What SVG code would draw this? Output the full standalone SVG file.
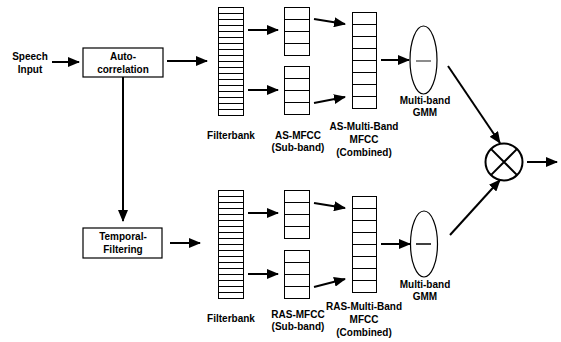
<svg xmlns="http://www.w3.org/2000/svg" width="561" height="342" viewBox="0 0 561 342">
<style>
text{font-family:"Liberation Sans",Arial,sans-serif;font-size:10px;font-weight:bold;fill:#000;text-anchor:middle}
.box{fill:#fff;stroke:#000;stroke-width:1.2}
.cell{fill:none;stroke:#000;stroke-width:1}
.conn{stroke:#000;stroke-width:2;fill:none}
</style>
<defs>
<marker id="ah" markerUnits="userSpaceOnUse" markerWidth="12" markerHeight="10" refX="11" refY="5" orient="auto">
<path d="M0,0 L12,5 L0,10 z" fill="#000"/>
</marker>
</defs>

<g id="speech-input">
<text x="30" y="60">Speech</text>
<text x="30" y="73">Input</text>
</g>

<g id="autocorrelation">
<rect class="box" x="83" y="48" width="80" height="29"/>
<text x="123" y="60">Auto-</text>
<text x="123" y="73">correlation</text>
</g>

<g id="temporal-filtering">
<rect class="box" x="83" y="228" width="79" height="30"/>
<text x="123" y="240">Temporal-</text>
<text x="123" y="253">Filtering</text>
</g>

<g id="filterbank-top">
<rect class="cell" x="218.5" y="7.5" width="25" height="108"/>
<path class="cell" d="M218.5,13.5h25M218.5,19.5h25M218.5,25.5h25M218.5,31.5h25M218.5,37.5h25M218.5,43.5h25M218.5,49.5h25M218.5,55.5h25M218.5,61.5h25M218.5,67.5h25M218.5,73.5h25M218.5,79.5h25M218.5,85.5h25M218.5,91.5h25M218.5,97.5h25M218.5,103.5h25M218.5,109.5h25"/>
<text x="231" y="139">Filterbank</text>
</g>

<g id="as-mfcc">
<rect class="cell" x="284.5" y="7.5" width="25" height="48"/>
<path class="cell" d="M284.5,19.5h25M284.5,31.5h25M284.5,43.5h25"/>
<rect class="cell" x="284.5" y="66.5" width="25" height="48"/>
<path class="cell" d="M284.5,78.5h25M284.5,90.5h25M284.5,102.5h25"/>
<text x="298" y="139">AS-MFCC</text>
<text x="298" y="151">(Sub-band)</text>
</g>

<g id="as-combined">
<rect class="cell" x="352.5" y="12.5" width="24" height="96"/>
<path class="cell" d="M352.5,24.5h24M352.5,36.5h24M352.5,48.5h24M352.5,60.5h24M352.5,72.5h24M352.5,84.5h24M352.5,96.5h24"/>
<text x="364" y="130">AS-Multi-Band</text>
<text x="364" y="143">MFCC</text>
<text x="364" y="156">(Combined)</text>
</g>

<g id="gmm-top">
<ellipse cx="423.5" cy="60" rx="13.5" ry="34" fill="#fff" stroke="#000" stroke-width="1.2"/>
<path d="M416,61h15" stroke="#666" stroke-width="1.5"/>
<text x="425" y="104">Multi-band</text>
<text x="425" y="116">GMM</text>
</g>

<g id="filterbank-bottom">
<rect class="cell" x="218.5" y="190.5" width="25" height="108"/>
<path class="cell" d="M218.5,196.5h25M218.5,202.5h25M218.5,208.5h25M218.5,214.5h25M218.5,220.5h25M218.5,226.5h25M218.5,232.5h25M218.5,238.5h25M218.5,244.5h25M218.5,250.5h25M218.5,256.5h25M218.5,262.5h25M218.5,268.5h25M218.5,274.5h25M218.5,280.5h25M218.5,286.5h25M218.5,292.5h25"/>
<text x="231" y="322">Filterbank</text>
</g>

<g id="ras-mfcc">
<rect class="cell" x="284.5" y="190.5" width="25" height="48"/>
<path class="cell" d="M284.5,202.5h25M284.5,214.5h25M284.5,226.5h25"/>
<rect class="cell" x="284.5" y="250.5" width="25" height="48"/>
<path class="cell" d="M284.5,262.5h25M284.5,274.5h25M284.5,286.5h25"/>
<text x="298" y="318">RAS-MFCC</text>
<text x="298" y="330">(Sub-band)</text>
</g>

<g id="ras-combined">
<rect class="cell" x="352.5" y="196.5" width="24" height="96"/>
<path class="cell" d="M352.5,208.5h24M352.5,220.5h24M352.5,232.5h24M352.5,244.5h24M352.5,256.5h24M352.5,268.5h24M352.5,280.5h24"/>
<text x="364" y="310">RAS-Multi-Band</text>
<text x="364" y="323">MFCC</text>
<text x="364" y="336">(Combined)</text>
</g>

<g id="gmm-bottom">
<ellipse cx="424" cy="244" rx="13.5" ry="33" fill="#fff" stroke="#000" stroke-width="1.2"/>
<path d="M416,244h15" stroke="#000" stroke-width="1.5"/>
<text x="425" y="288">Multi-band</text>
<text x="425" y="300">GMM</text>
</g>

<g id="multiplier">
<circle cx="504" cy="162" r="18.5" fill="#fff" stroke="#000" stroke-width="2"/>
<path d="M490.9,148.9L517.1,175.1M517.1,148.9L490.9,175.1" stroke="#000" stroke-width="2"/>
</g>

<g id="connectors">
<path class="conn" marker-end="url(#ah)" d="M52,62H79"/>
<path class="conn" marker-end="url(#ah)" d="M167,61H207"/>
<path class="conn" marker-end="url(#ah)" d="M123,77V221"/>
<path class="conn" marker-end="url(#ah)" d="M170,243H200"/>
<path class="conn" marker-end="url(#ah)" d="M248,30H278"/>
<path class="conn" marker-end="url(#ah)" d="M248,90H278"/>
<path class="conn" marker-end="url(#ah)" d="M314,19L345,24"/>
<path class="conn" marker-end="url(#ah)" d="M314,103L345,97"/>
<path class="conn" marker-end="url(#ah)" d="M381,60H409"/>
<path class="conn" marker-end="url(#ah)" d="M248,213H278"/>
<path class="conn" marker-end="url(#ah)" d="M248,274H278"/>
<path class="conn" marker-end="url(#ah)" d="M314,203L345,208"/>
<path class="conn" marker-end="url(#ah)" d="M314,287L345,279"/>
<path class="conn" marker-end="url(#ah)" d="M381,244H410"/>
<path class="conn" marker-end="url(#ah)" d="M448,66L500,143"/>
<path class="conn" marker-end="url(#ah)" d="M450,235L500,180"/>
<path class="conn" marker-end="url(#ah)" d="M527,162H557"/>
</g>
</svg>
